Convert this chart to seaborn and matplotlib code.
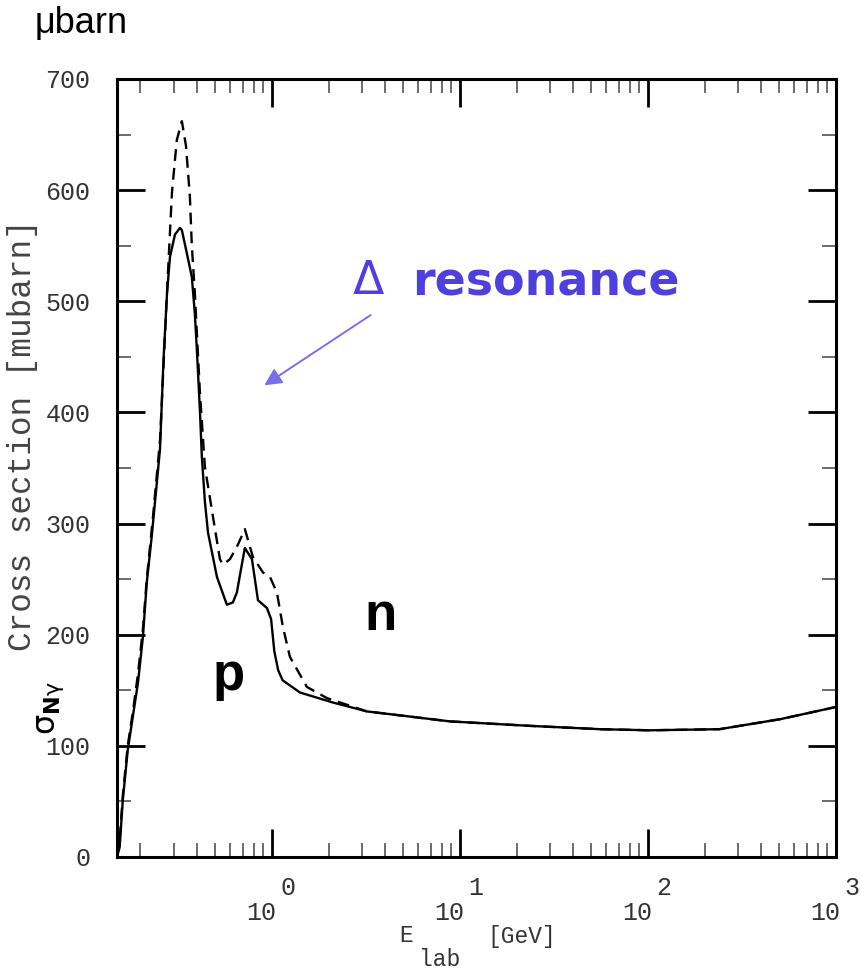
import numpy as np
import pandas as pd
import seaborn as sns
import matplotlib.pyplot as plt
from matplotlib.ticker import MultipleLocator, LogLocator, NullFormatter, FixedLocator

# photon lab energy [GeV] and cross section [mubarn]
energy_p = [0.150, 0.155, 0.161, 0.171, 0.182, 0.194, 0.206, 0.216, 0.230, 0.254,
            0.265, 0.277, 0.287, 0.305, 0.324, 0.332, 0.353, 0.375, 0.389, 0.399,
            0.414, 0.424, 0.440, 0.457, 0.510, 0.576, 0.620, 0.651, 0.690, 0.718,
            0.783, 0.843, 0.941, 0.990, 1.03, 1.08, 1.14, 1.41, 2.11, 3.20,
            8.86, 23.5, 55.5, 102, 240, 505, 1000]
sigma_p = [0, 9, 51, 96, 126, 157, 198, 247, 290, 367,
           447, 508, 540, 560, 566, 564, 543, 522, 489, 456,
           402, 360, 320, 292, 252, 227, 229, 238, 262, 278,
           268, 231, 224, 214, 185, 168, 159, 148, 139, 131,
           122, 118, 115, 114, 115, 124, 135]

energy_n = [0.150, 0.155, 0.161, 0.171, 0.182, 0.194, 0.206, 0.216, 0.233, 0.254,
            0.277, 0.294, 0.312, 0.332, 0.349, 0.366, 0.375, 0.389, 0.414, 0.440,
            0.486, 0.529, 0.549, 0.598, 0.651, 0.718, 0.792, 0.896, 0.976, 1.063,
            1.144, 1.247, 1.535, 1.96, 3.20, 8.86, 23.5, 55.5, 102, 240, 505, 1000]
sigma_n = [0, 15, 55, 100, 130, 165, 205, 250, 306, 375,
           510, 598, 645, 662, 640, 595, 550, 508, 418, 351,
           306, 268, 263, 268, 279, 295, 270, 256, 252, 238,
           207, 180, 153, 143, 131, 122, 118, 115, 114, 115, 124, 135]

y_ticks = [0, 100, 200, 300, 400, 500, 600, 700]
x_decades = [1, 10, 100, 1000]
decade_exponents = ['0', '1', '2', '3']

df_p = pd.DataFrame({'E': energy_p, 'sigma': sigma_p})
df_n = pd.DataFrame({'E': energy_n, 'sigma': sigma_n})

sns.set_style('white')
plt.rcParams['font.family'] = ['DejaVu Sans']

W, H = 861, 975
fig = plt.figure(figsize=(W / 100, H / 100), dpi=100)
ax = fig.add_axes([117 / W, 1 - 857 / H, (836 - 117) / W, (857 - 79) / H])

sns.lineplot(data=df_p, x='E', y='sigma', ax=ax, color='black', lw=1.7,
             estimator=None, sort=False)
sns.lineplot(data=df_n, x='E', y='sigma', ax=ax, color='black', lw=1.7,
             estimator=None, sort=False, linestyle=(0, (5, 3)))

ax.set_xscale('log')
ax.set_xlim(0.15, 1000)
ax.set_ylim(0, 700)
ax.set_xlabel('')
ax.set_ylabel('')

for s in ax.spines.values():
    s.set_linewidth(2.2)
    s.set_color('black')

mono = dict(family='Liberation Mono', fontsize=18, color='#333333')
mono_small = dict(family='Liberation Mono', fontsize=16.5, color='#333333')

ax.yaxis.set_major_locator(FixedLocator(y_ticks))
ax.yaxis.set_minor_locator(MultipleLocator(50))
ax.set_yticklabels([str(v) for v in y_ticks], **mono)
ax.xaxis.set_major_locator(FixedLocator(x_decades))
ax.xaxis.set_minor_locator(LogLocator(base=10, subs=np.arange(2, 10)))
ax.xaxis.set_minor_formatter(NullFormatter())
ax.set_xticklabels([''] * len(x_decades))

ax.tick_params(which='major', direction='in', length=20, width=2,
               bottom=True, left=True, top=True, right=True,
               color='black', pad=19)
ax.tick_params(which='minor', direction='in', length=10, width=1.1,
               bottom=True, left=True, top=True, right=True, color='#444444')

for e, ex in zip(x_decades, decade_exponents):
    ax.annotate('10', xy=(e, 0), xycoords=('data', 'axes fraction'),
                xytext=(-11, -56), textcoords='offset pixels',
                ha='center', va='center', annotation_clip=False, **mono)
    ax.annotate(ex, xy=(e, 0), xycoords=('data', 'axes fraction'),
                xytext=(16, -31), textcoords='offset pixels',
                ha='center', va='center', annotation_clip=False, **mono)

# axis titles in the old plotting style
fig.text(406 / W, 1 - 936 / H, 'E', ha='center', va='center', **mono_small)
fig.text(522 / W, 1 - 937 / H, '[GeV]', ha='center', va='center', **mono_small)
fig.text(440 / W, 1 - 959 / H, 'lab', ha='center', va='center', **mono_small)
fig.text(23 / W, 1 - 435 / H, 'Cross section [mubarn]', rotation=90,
         ha='center', va='center', family='Liberation Mono', fontsize=23.5,
         color='#444444')

fig.text(35 / W, 1 - 24 / H, 'μbarn', ha='left', va='center',
         family='Liberation Sans', fontsize=26, color='black')
fig.text(50 / W, 1 - 708 / H, r'$\mathregular{\sigma_{\mathbf{N}\gamma}}$',
         rotation=90, ha='center', va='center', fontsize=23, color='black')

purple = '#5040DA'
ax.text(2.70, 507, 'Δ', ha='left', va='baseline', fontsize=33, color=purple)
ax.text(5.55, 505, 'resonance', ha='left', va='baseline', fontsize=33,
        fontweight='bold', color=purple)
ax.annotate('', xy=(0.885, 423), xytext=(3.45, 489),
            arrowprops=dict(arrowstyle='-|>', color='#7B6FE8', lw=1.4,
                            mutation_scale=26))

ax.text(0.485, 150, 'p', ha='left', va='baseline', fontsize=38,
        fontweight='bold', family='Liberation Sans', color='black')
ax.text(3.12, 204, 'n', ha='left', va='baseline', fontsize=38,
        fontweight='bold', family='Liberation Sans', color='black')

fig.savefig('out.png', dpi=100)
